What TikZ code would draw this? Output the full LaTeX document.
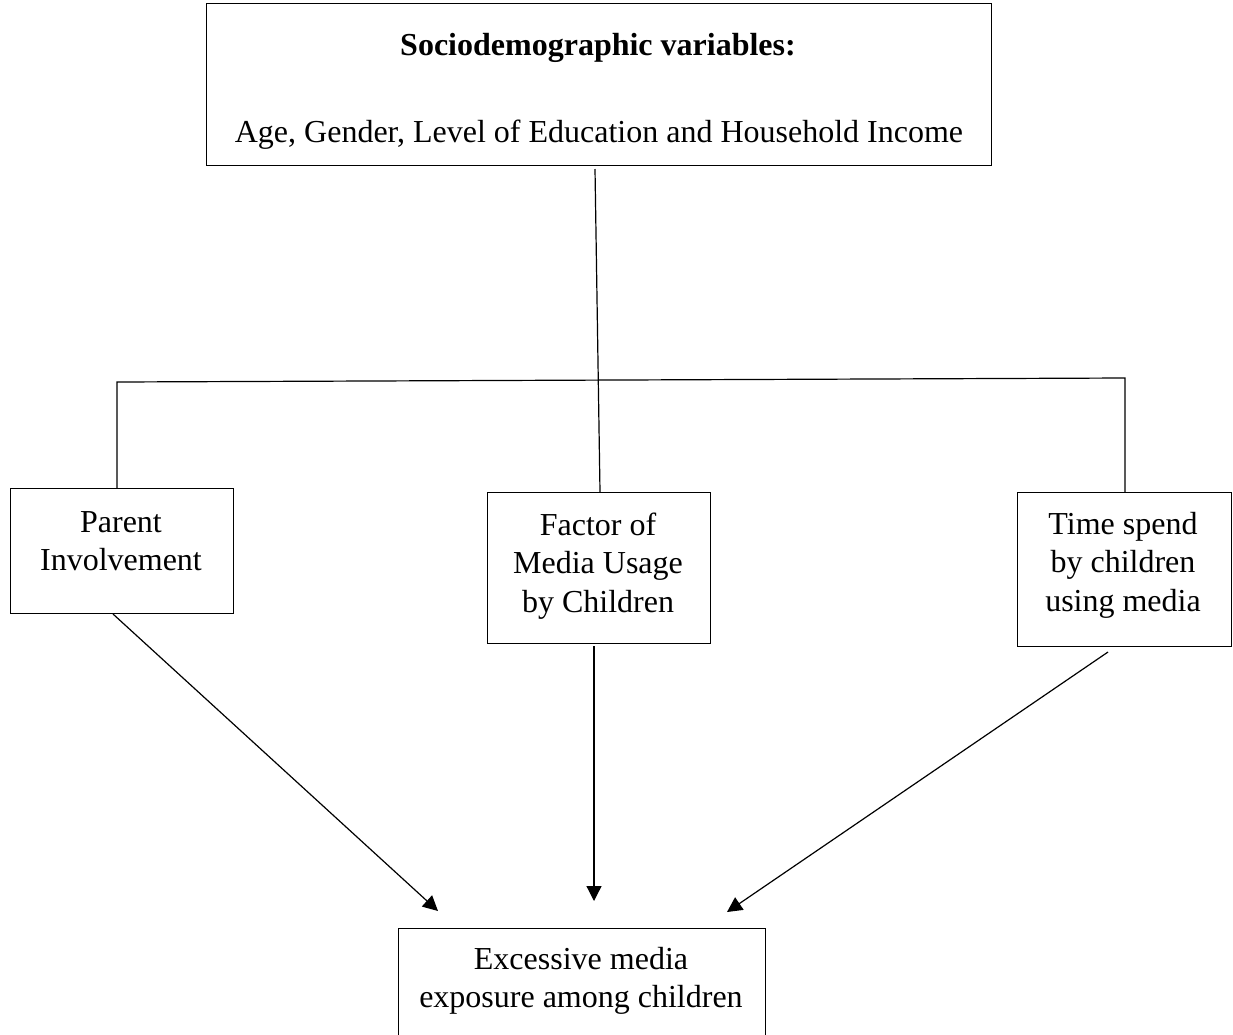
\documentclass[tikz,border=0pt]{standalone}
\usepackage{fontspec}
\setmainfont{Liberation Serif}
\usetikzlibrary{arrows.meta}
\begin{document}
\begin{tikzpicture}[x=1pt,y=-1pt,
  box/.style={draw,line width=1.2pt,inner sep=0pt,anchor=north west},
  txt/.style={align=center,font=\fontsize{32}{38.5}\selectfont,inner sep=0pt},
  ln/.style={line width=1.2pt},
  arr/.style={line width=1.2pt,-{Triangle[length=15pt,width=15pt]}}]
\useasboundingbox (0,0) rectangle (1233,1034);
\clip (0,0) rectangle (1233,1034);
% boxes
\node[box,minimum width=785pt,minimum height=162pt] (top) at (206,3) {};
\node[box,minimum width=223pt,minimum height=125pt] (left) at (10,488) {};
\node[box,minimum width=223pt,minimum height=151pt] (mid) at (487,492) {};
\node[box,minimum width=214pt,minimum height=154pt] (right) at (1017,492) {};
\node[box,minimum width=367pt,minimum height=130pt] (bot) at (398,928) {};
% texts
\node[txt,font=\fontsize{32}{38.5}\selectfont\bfseries] (toptitle) at (598,48) {Sociodemographic variables:};
\node[txt] (toptext) at (599,135) {Age, Gender, Level of Education and Household Income};
\node[txt] (lefttext) at (121,541) {Parent\\Involvement};
\node[txt] (midtext) at (598,566) {Factor of\\Media Usage\\by Children};
\node[txt] (righttext) at (1123,565) {Time spend\\by children\\using media};
\node[txt] (bottext) at (581,981) {Excessive media\\exposure among children};
% connectors
\coordinate (s) at (595,169);
\coordinate (hl) at (117,382);
\coordinate (hr) at (1125,378);
\draw[ln] (s) -- (mid.north -| 600,0);
\draw[ln] (left.north -| hl) -- (hl) -- (hr) -- (right.north -| hr);
\coordinate (a1s) at (113,614);
\coordinate (a1e) at (438,911);
\coordinate (a2s) at (594,646);
\coordinate (a2e) at (594,901);
\coordinate (a3s) at (1108,652);
\coordinate (a3e) at (727,912);
\draw[arr] (a1s) -- (a1e);
\draw[arr] (a2s) -- (a2e);
\draw[arr] (a3s) -- (a3e);
\end{tikzpicture}
\end{document}
